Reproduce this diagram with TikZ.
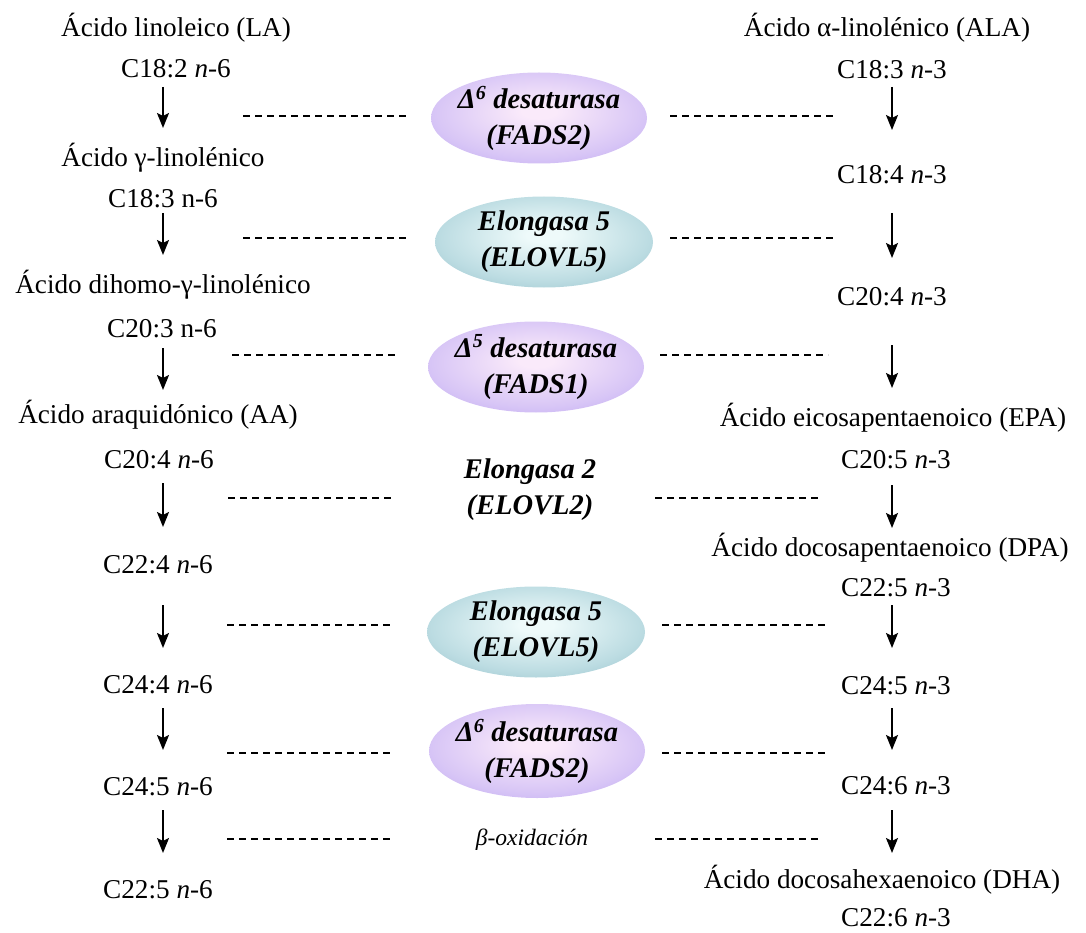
\documentclass[tikz,border=0pt]{standalone}
\usepackage{fontspec}
\setmainfont{Liberation Serif}
\usetikzlibrary{arrows.meta,shapes.geometric}
\definecolor{purpin}{HTML}{FAEAFA}
\definecolor{purpmid}{HTML}{D8C6F6}
\definecolor{purpout}{HTML}{A68CEE}
\definecolor{tealin}{HTML}{EEFAFA}
\definecolor{tealmid}{HTML}{BCDCE2}
\definecolor{tealout}{HTML}{74A8B6}
\pgfdeclareradialshading{purpsh}{\pgfpoint{0bp}{4bp}}{color(0bp)=(purpin); color(4bp)=(purpin); color(24bp)=(purpmid); color(48bp)=(purpout); color(60bp)=(purpout)}
\pgfdeclareradialshading{tealsh}{\pgfpoint{0bp}{4bp}}{color(0bp)=(tealin); color(4bp)=(tealin); color(24bp)=(tealmid); color(48bp)=(tealout); color(60bp)=(tealout)}
\tikzset{
  lbl/.style={inner sep=0pt, font=\fontsize{27.2}{30}\selectfont},
  enz/.style={inner sep=0pt, align=center, font=\fontsize{28.5}{36}\selectfont\bfseries\itshape},
  oval/.style={ellipse, inner sep=0pt, minimum width=216pt, minimum height=91pt},
  purpoval/.style={oval, shading=purpsh},
  tealoval/.style={oval, shading=tealsh},
  arr/.style={line width=2pt, -{Stealth[length=15pt,width=12pt,inset=3pt]}},
  dsh/.style={line width=1.5pt, dash pattern=on 7pt off 5pt},
}
\begin{document}
\begin{tikzpicture}[x=1pt,y=-1pt]
\useasboundingbox (0,0) rectangle (1086,933);
% left column
\node[lbl] (L1) at (176,28) {Ácido linoleico (LA)};
\node[lbl] (L2) at (176,69) {C18:2 \textit{n}-6};
\node[lbl] (L3) at (163,158) {Ácido γ-linolénico};
\node[lbl] (L4) at (163,199) {C18:3 n-6};
\node[lbl] (L5) at (163,285) {Ácido dihomo-γ-linolénico};
\node[lbl] (L6) at (162,329) {C20:3 n-6};
\node[lbl] (L7) at (158,415) {Ácido araquidónico (AA)};
\node[lbl] (L8) at (159,460) {C20:4 \textit{n}-6};
\node[lbl] (L9) at (158,565) {C22:4 \textit{n}-6};
\node[lbl] (L10) at (158,685) {C24:4 \textit{n}-6};
\node[lbl] (L11) at (158,787) {C24:5 \textit{n}-6};
\node[lbl] (L12) at (158,890) {C22:5 \textit{n}-6};
% right column
\node[lbl] (R1) at (887,28) {Ácido α-linolénico (ALA)};
\node[lbl] (R2) at (892,70) {C18:3 \textit{n}-3};
\node[lbl] (R3) at (892,175) {C18:4 \textit{n}-3};
\node[lbl] (R4) at (892,297) {C20:4 \textit{n}-3};
\node[lbl] (R5) at (893,418) {Ácido eicosapentaenoico (EPA)};
\node[lbl] (R6) at (896,460) {C20:5 \textit{n}-3};
\node[lbl] (R7) at (890,548) {Ácido docosapentaenoico (DPA)};
\node[lbl] (R8) at (896,588) {C22:5 \textit{n}-3};
\node[lbl] (R9) at (896,686) {C24:5 \textit{n}-3};
\node[lbl] (R10) at (896,786) {C24:6 \textit{n}-3};
\node[lbl] (R11) at (882,880) {Ácido docosahexaenoico (DHA)};
\node[lbl] (R12) at (896,918) {C22:6 \textit{n}-3};
% enzyme ovals
\node[purpoval] (O1) at (539,118) {};
\node[tealoval, minimum width=218pt] (O2) at (544,242) {};
\node[purpoval] (O3) at (536,367) {};
\node[tealoval, minimum width=218pt] (O5) at (536,632) {};
\node[purpoval, minimum height=94pt] (O6) at (537,751) {};
% enzyme names
\node[enz] (E1) at (O1) {Δ\textsuperscript{6} desaturasa\\(FADS2)};
\node[enz] (E2) at (O2) {Elongasa 5\\(ELOVL5)};
\node[enz] (E3) at (O3) {Δ\textsuperscript{5} desaturasa\\(FADS1)};
\node[enz] (E4) at (530,490) {Elongasa 2\\(ELOVL2)};
\node[enz] (E5) at (O5) {Elongasa 5\\(ELOVL5)};
\node[enz] (E6) at (O6) {Δ\textsuperscript{6} desaturasa\\(FADS2)};
\node[inner sep=0pt, font=\fontsize{23.5}{26}\selectfont\itshape] (E7) at (532,840) {β-oxidación};
% arrow end points, left
\foreach \i/\a/\b in {1/87/128, 2/213/255, 3/348/390, 4/483/527, 5/605/648, 6/708/750, 7/810/853}{
  \coordinate (la\i) at (163,\a);
  \coordinate (lb\i) at (163,\b);
  \draw[arr] (la\i) -- (lb\i);
}
% arrow end points, right
\foreach \i/\a/\b in {1/87/130, 2/213/258, 3/345/388, 4/485/528, 5/605/648, 6/708/750, 7/810/853}{
  \coordinate (ra\i) at (892,\a);
  \coordinate (rb\i) at (892,\b);
  \draw[arr] (ra\i) -- (rb\i);
}
% dashed guides
\foreach \i/\y/\la/\lb/\ra/\rb in {1/116/243/408/670/837, 2/238/243/408/670/837, 3/355/232/398/660/828, 4/498/228/393/655/820, 5/625/227/393/662/828, 6/753/227/393/662/828, 7/839/227/393/655/822}{
  \coordinate (dla\i) at (\la,\y);
  \coordinate (dlb\i) at (\lb,\y);
  \coordinate (dra\i) at (\ra,\y);
  \coordinate (drb\i) at (\rb,\y);
  \draw[dsh] (dla\i) -- (dlb\i);
  \draw[dsh] (dra\i) -- (drb\i);
}
\end{tikzpicture}
\end{document}
